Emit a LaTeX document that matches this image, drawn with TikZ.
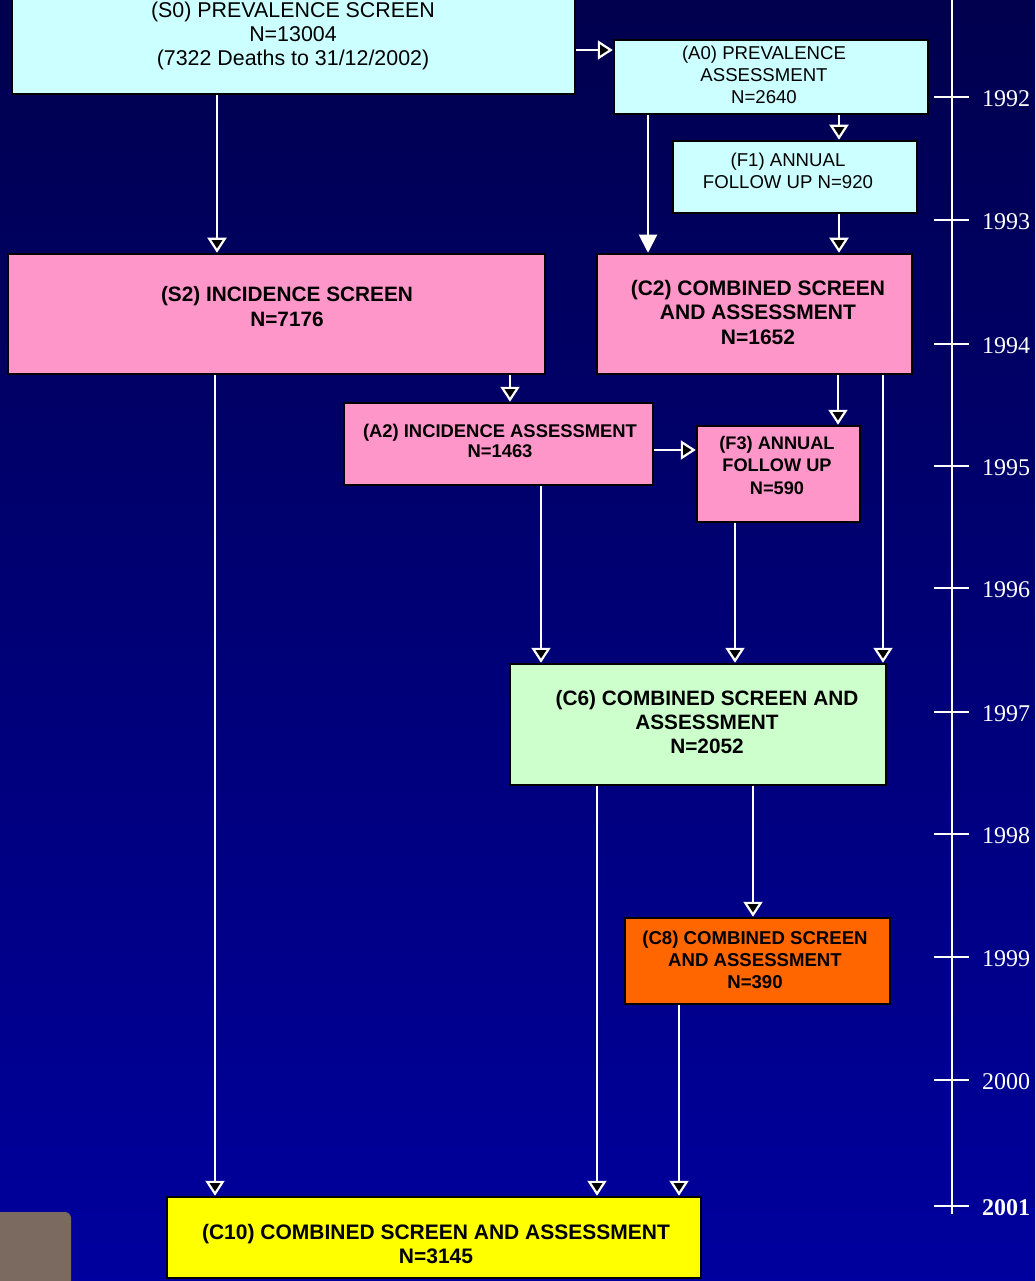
\documentclass[tikz,border=0pt]{standalone}
\usepackage{fontspec}
\setmainfont{Liberation Sans}
\newfontfamily\yearfont{Liberation Serif}
\usetikzlibrary{arrows.meta}
\definecolor{bgtop}{RGB}{0,0,78}
\definecolor{bgbot}{RGB}{0,0,158}
\definecolor{cyanbox}{RGB}{204,255,255}
\definecolor{pinkbox}{RGB}{255,150,202}
\definecolor{greenbox}{RGB}{204,255,204}
\definecolor{orangebox}{RGB}{255,102,0}
\definecolor{yellowbox}{RGB}{255,255,0}
\definecolor{brownbox}{RGB}{122,106,96}
\tikzset{
  box/.style={draw=black, line width=2.5pt, inner sep=0pt},
  txt/.style={align=center, text=black, inner sep=0pt},
  arr/.style={draw=white, line width=2pt,
    -{Triangle[width=19pt,length=15pt,fill=black,line width=2.2pt]}},
  arrfill/.style={draw=white, line width=2pt,
    -{Triangle[width=18pt,length=18pt,fill=white]}},
  tick/.style={draw=white, line width=2.5pt},
  year/.style={text=white, font=\yearfont\fontsize{24}{26}\selectfont, inner sep=0pt, anchor=west}
}
\begin{document}
\begin{tikzpicture}[x=1pt,y=-1pt]
\useasboundingbox (0,0) rectangle (1035,1281);
\shade[top color=bgtop, bottom color=bgbot] (0,0) rectangle (1035,1281);
% brown corner box
\fill[brownbox, rounded corners=6pt] (-10,1300) -- (-10,1212) -- (71,1212) -- (71,1300) -- cycle;

% timeline
\coordinate (tltop) at (952,-5);
\coordinate (tlbot) at (952,1214);
\draw[tick] (tltop) -- (tlbot);
\foreach \yr/\yy in {1992/97,1993/220,1994/344,1995/466,1996/588,1997/712,1998/834,1999/957,2000/1080}{
  \coordinate (tl\yr a) at (934,\yy);
  \coordinate (tl\yr b) at (969,\yy);
  \draw[tick] (tl\yr a) -- (tl\yr b);
  \node[year] (y\yr) at (982,\yy+2) {\yr};
}
\coordinate (tl2001a) at (934,1206);
\coordinate (tl2001b) at (969,1206);
\draw[tick] (tl2001a) -- (tl2001b);
\node[year, font=\yearfont\bfseries\fontsize{24}{26}\selectfont] (y2001) at (982,1208) {2001};

% boxes
\node[box, fill=cyanbox, minimum width=563pt, minimum height=114pt] (S0) at (293.5,37) {};
\node[txt, font=\fontsize{21.4}{24}\selectfont] (S0t) at (293,36) {(S0) PREVALENCE SCREEN\\N=13004\\(7322 Deaths to 31/12/2002)};

\node[box, fill=cyanbox, minimum width=314pt, minimum height=74pt] (A0) at (771,77) {};
\node[txt, font=\fontsize{18.6}{22}\selectfont] (A0t) at (764,75) {(A0) PREVALENCE\\ASSESSMENT\\N=2640};

\node[box, fill=cyanbox, minimum width=244pt, minimum height=72pt] (F1) at (795,177) {};
\node[txt, font=\fontsize{18.6}{22}\selectfont] (F1t) at (788,171) {(F1) ANNUAL\\FOLLOW UP N=920};

\node[box, fill=pinkbox, minimum width=537pt, minimum height=120pt] (S2) at (276.5,314) {};
\node[txt, font=\bfseries\fontsize{20.8}{25}\selectfont] (S2t) at (287,307) {(S2) INCIDENCE SCREEN\\N=7176};

\node[box, fill=pinkbox, minimum width=315pt, minimum height=120pt] (C2) at (754.5,314) {};
\node[txt, font=\bfseries\fontsize{21}{24.5}\selectfont] (C2t) at (758,312) {(C2) COMBINED SCREEN\\AND ASSESSMENT\\N=1652};

\node[box, fill=pinkbox, minimum width=309pt, minimum height=82pt] (A2) at (498.5,444) {};
\node[txt, font=\bfseries\fontsize{18.4}{19.5}\selectfont] (A2t) at (500,441) {(A2) INCIDENCE ASSESSMENT\\N=1463};

\node[box, fill=pinkbox, minimum width=163pt, minimum height=96pt] (F3) at (778.5,474) {};
\node[txt, font=\bfseries\fontsize{18.2}{22.5}\selectfont] (F3t) at (777,465) {(F3) ANNUAL\\FOLLOW UP\\N=590};

\node[box, fill=greenbox, minimum width=376pt, minimum height=121pt] (C6) at (698,724.5) {};
\node[txt, font=\bfseries\fontsize{20.8}{24}\selectfont] (C6t) at (707,722) {(C6) COMBINED SCREEN AND\\ASSESSMENT\\N=2052};

\node[box, fill=orangebox, minimum width=265pt, minimum height=86pt] (C8) at (757.5,961) {};
\node[txt, font=\bfseries\fontsize{18.6}{22}\selectfont] (C8t) at (755,960) {(C8) COMBINED SCREEN\\AND ASSESSMENT\\N=390};

\node[box, fill=yellowbox, minimum width=534pt, minimum height=81pt] (C10) at (434,1237.5) {};
\node[txt, font=\bfseries\fontsize{21}{24}\selectfont] (C10t) at (436,1244) {(C10) COMBINED SCREEN AND ASSESSMENT\\N=3145};

% connectors
\draw[arr] (S0.east |- 0,50) -- (A0.west |- 0,50);
\draw[arr] (S0.south -| 217,0) -- (S2.north -| 217,0);
\draw[arrfill] (A0.south -| 648,0) -- (C2.north -| 648,0);
\draw[arr] (A0.south -| 839,0) -- (F1.north -| 839,0);
\draw[arr] (F1.south -| 839,0) -- (C2.north -| 839,0);
\draw[arr] (S2.south -| 510,0) -- (A2.north -| 510,0);
\draw[arr] (A2.east |- 0,450) -- (F3.west |- 0,450);
\draw[arr] (C2.south -| 838,0) -- (F3.north -| 838,0);
\draw[arr] (C2.south -| 883,0) -- (C6.north -| 883,0);
\draw[arr] (A2.south -| 541,0) -- (C6.north -| 541,0);
\draw[arr] (F3.south -| 735,0) -- (C6.north -| 735,0);
\draw[arr] (C6.south -| 753,0) -- (C8.north -| 753,0);
\draw[arr] (S2.south -| 215,0) -- (C10.north -| 215,0);
\draw[arr] (C6.south -| 597,0) -- (C10.north -| 597,0);
\draw[arr] (C8.south -| 679,0) -- (C10.north -| 679,0);
\end{tikzpicture}
\end{document}
